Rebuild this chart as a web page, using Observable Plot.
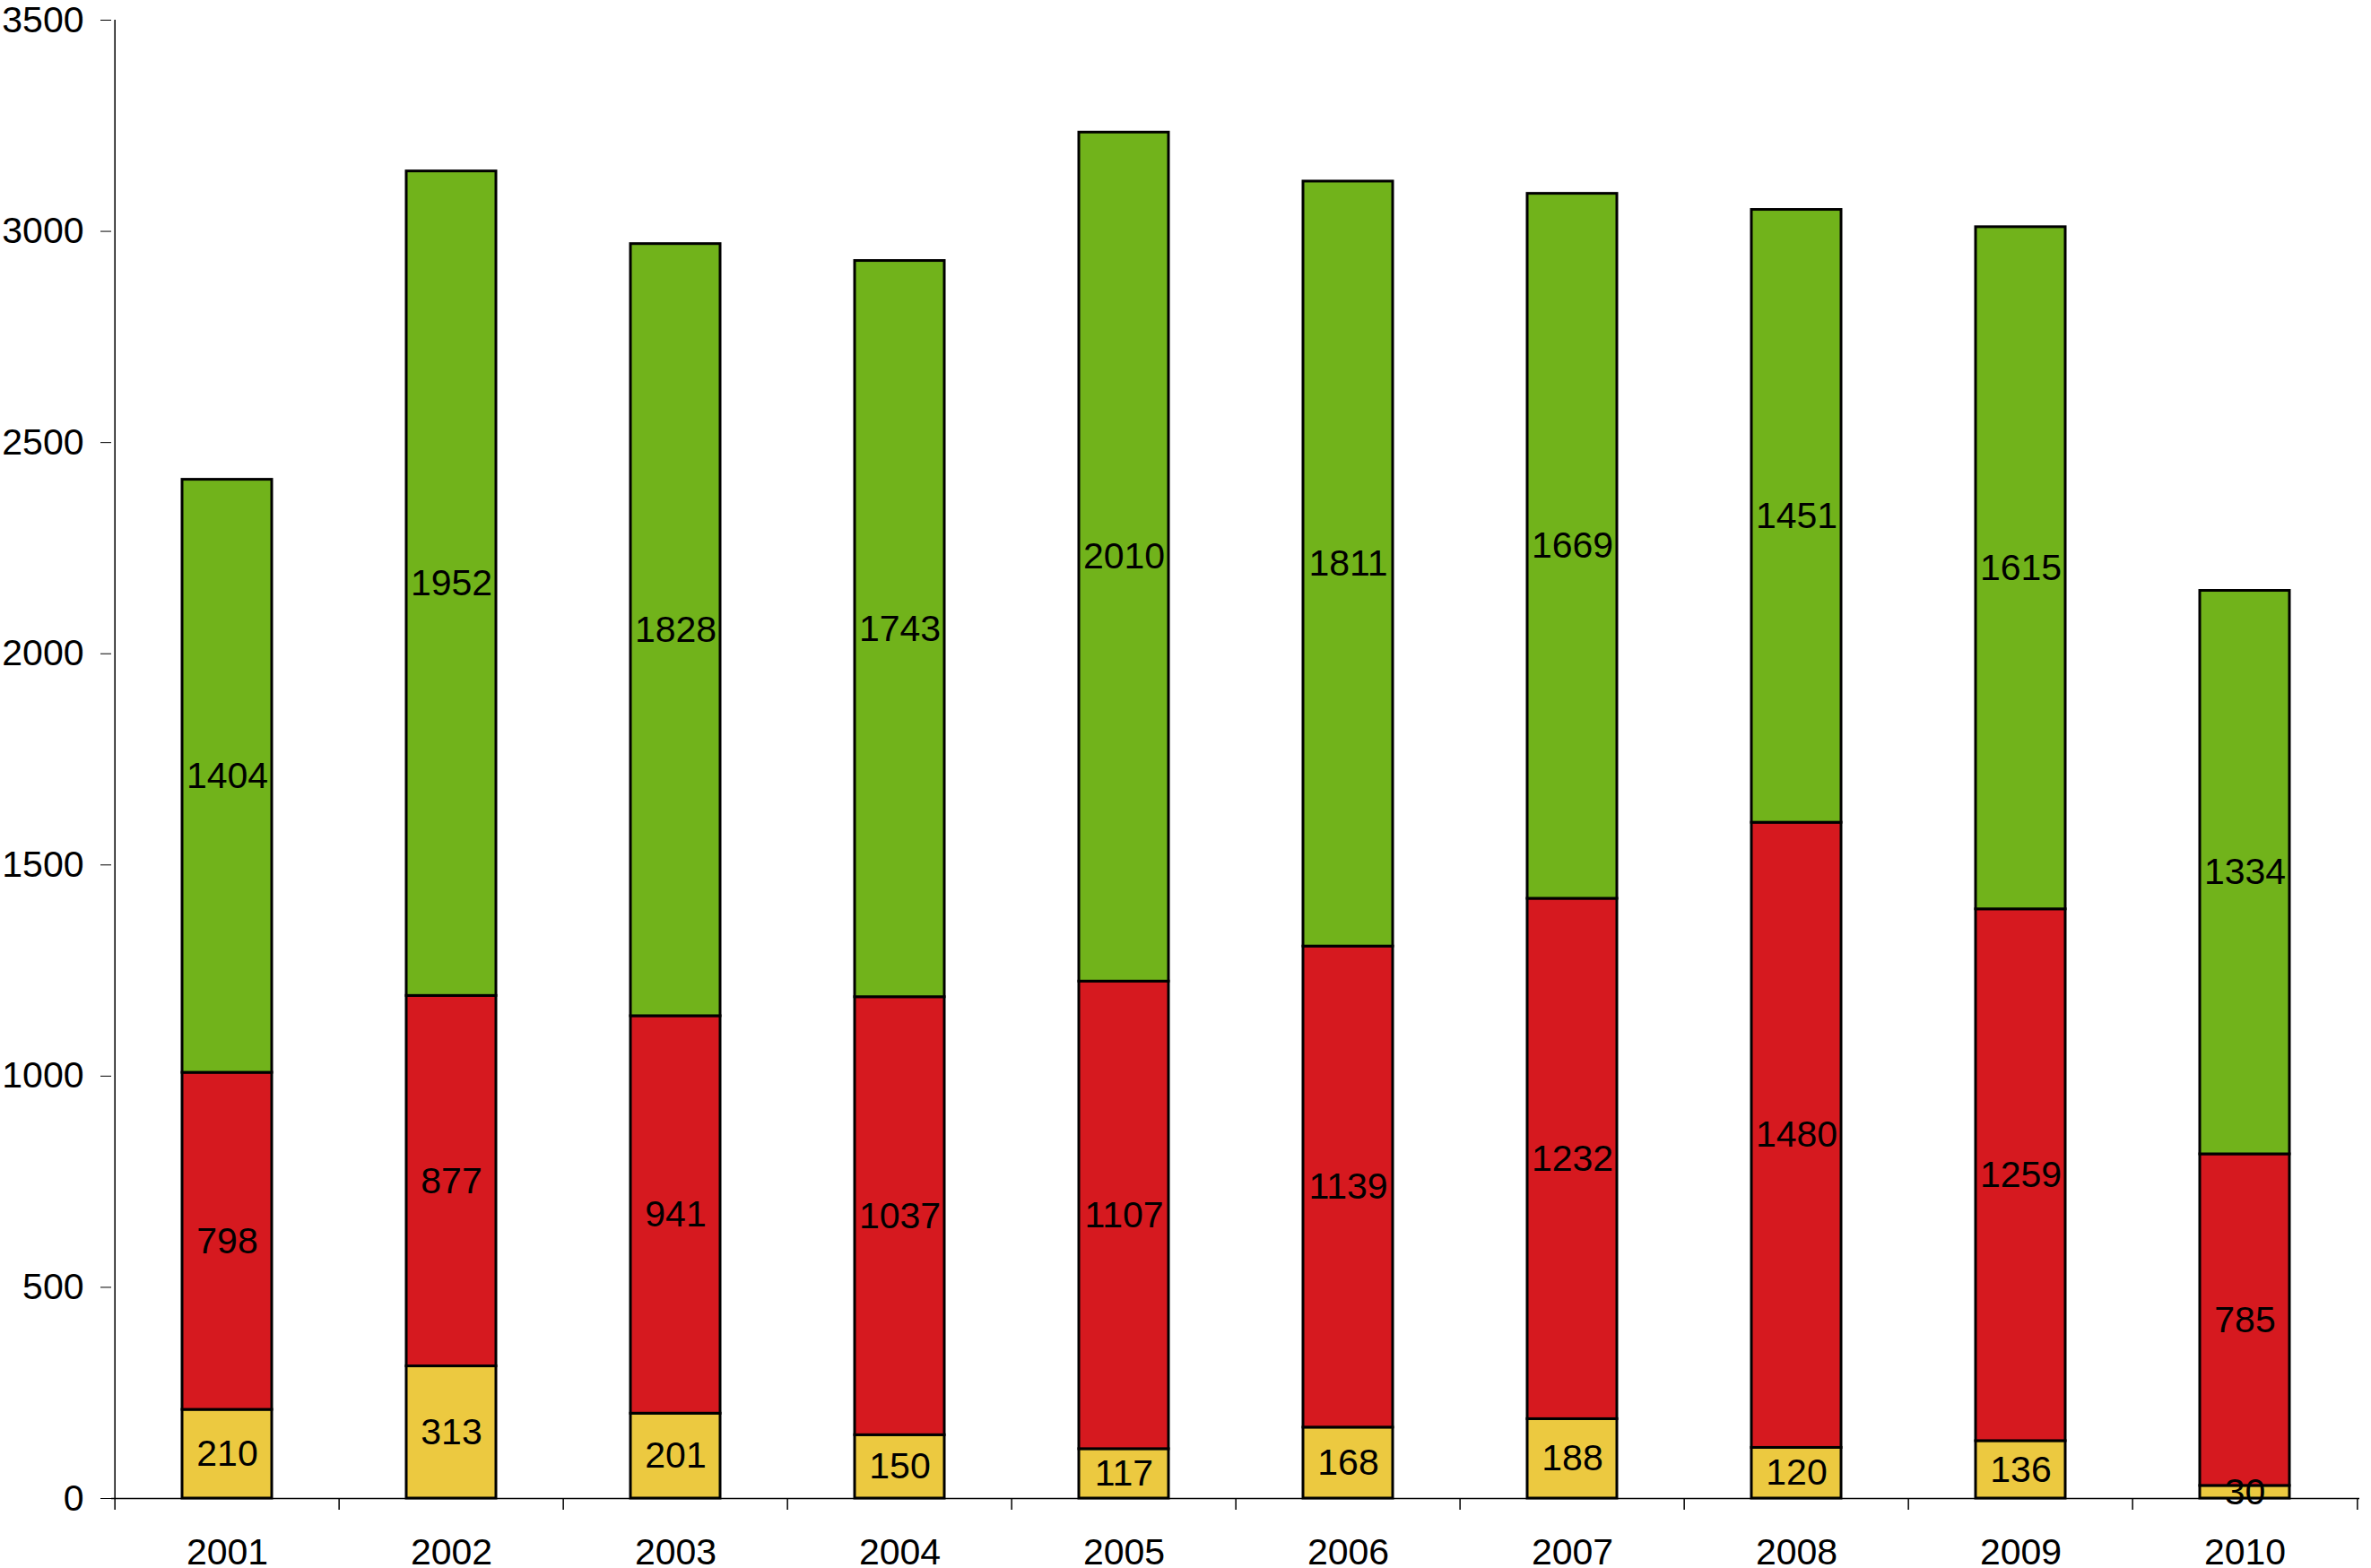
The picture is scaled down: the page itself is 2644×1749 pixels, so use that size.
<!DOCTYPE html>
<html>
<head>
<meta charset="utf-8">
<script src="https://cdn.jsdelivr.net/npm/d3@7"></script>
<script src="https://cdn.jsdelivr.net/npm/@observablehq/plot@0.6"></script>
<style>
  html, body { margin: 0; padding: 0; background: #ffffff; }
  #chart svg { display: block; }
</style>
</head>
<body>
<div id="chart"></div>
<script>
const years = ["2001","2002","2003","2004","2005","2006","2007","2008","2009","2010"];
const seriesNames = ["Serie A","Serie B","Serie C"];
const seriesAValues = [210, 313, 201, 150, 117, 168, 188, 120, 136, 30];
const seriesBValues = [798, 877, 941, 1037, 1107, 1139, 1232, 1480, 1259, 785];
const seriesCValues = [1404, 1952, 1828, 1743, 2010, 1811, 1669, 1451, 1615, 1334];
const seriesColors = ["#ECC940", "#D6191F", "#71B31B"];
const yTicks = [0, 500, 1000, 1500, 2000, 2500, 3000, 3500];

const seriesValues = [seriesAValues, seriesBValues, seriesCValues];
const data = [];
years.forEach((yr, i) => {
  seriesNames.forEach((s, j) => data.push({year: yr, series: s, value: seriesValues[j][i]}));
});

const W = 2644, H = 1749;
const mL = 124, mR = 13, mT = 22, mB = 78;
const step = (W - mL - mR) / years.length;
const frameH = H - mT - mB;
const tickLen = 13;
const fs = 41;

const chart = Plot.plot({
  width: W,
  height: H,
  marginLeft: mL,
  marginRight: mR,
  marginTop: mT,
  marginBottom: mB,
  style: {fontFamily: "'Liberation Sans', Arial, sans-serif", fontSize: fs + "px", color: "#000", background: "#fff", overflow: "visible"},
  x: {domain: years, paddingInner: 0.6, paddingOuter: 0.3, label: null},
  y: {domain: [0, 3500], label: null},
  color: {type: "ordinal", domain: seriesNames, range: seriesColors},
  marks: [
    Plot.axisY({ticks: yTicks, tickFormat: d => String(d), tickSize: 12, tickPadding: 19, label: null, fontSize: fs}),
    Plot.axisX({tickSize: 0, tickPadding: 44, label: null, fontSize: fs}),
    Plot.barY(data, {x: "year", y: "value", fill: "series", stroke: "#000", strokeWidth: 3}),
    Plot.text(data, Plot.stackY({x: "year", y: "value", text: d => String(d.value), fill: "#000", fontSize: fs})),
    Plot.ruleY([0], {stroke: "#000", strokeWidth: 1.5}),
    Plot.ruleX(years.slice(0, 1), {x: d => d, dx: -step / 2, insetBottom: -tickLen, stroke: "#000", strokeWidth: 1.5}),
    Plot.ruleX(years.slice(1), {x: d => d, dx: -step / 2, insetTop: frameH, insetBottom: -tickLen, stroke: "#000", strokeWidth: 1.5}),
    Plot.ruleX(years.slice(-1), {x: d => d, dx: step / 2, insetTop: frameH, insetBottom: -tickLen, stroke: "#000", strokeWidth: 1.5})
  ]
});
document.getElementById("chart").appendChild(chart);
</script>
</body>
</html>
